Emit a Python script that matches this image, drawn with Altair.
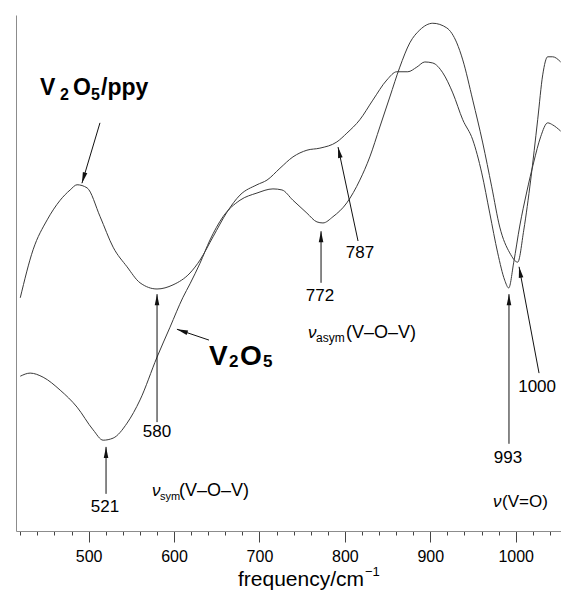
import math
import altair as alt
import pandas as pd

# ---------------- data ----------------
freq_ppy = [420, 435, 451.5, 466.7, 478.4, 486.5, 498.2, 513.5, 528.7, 545, 560.2, 580.1,
            598.8, 618.7, 630.4, 645.6, 662, 677.2, 697.1, 708.8, 724, 739.2, 755.6, 770.8,
            790.6, 802.3, 817.5, 832.7, 849.1, 860.8, 873.7, 884.2, 893.6, 902.9, 914.6,
            926.3, 938, 949.7, 960.2, 969.6, 978.9, 987.1, 991.8, 997.7, 1004.7, 1012.9,
            1021.1, 1029.2, 1037.4, 1043.3, 1052.6]
int_ppy = [45.2, 54.5, 60.3, 64.1, 66.1, 67.1, 66.5, 60.9, 55.0, 51.2, 48.1, 46.9,
           47.7, 50.0, 52.5, 57.0, 61.8, 65.1, 67.1, 68.0, 70.3, 72.5, 73.8, 74.2,
           75.4, 77.1, 79.7, 83.5, 87.4, 89.0, 89.0, 89.9, 90.9, 90.7, 88.8,
           84.9, 79.7, 75.8, 69.4, 61.6, 53.9, 48.6, 47.1, 52.1, 59.1, 65.7,
           71.5, 76.4, 79.1, 78.7, 77.5]

freq_v2o5 = [420, 431.6, 446.8, 466.7, 486.5, 505.3, 517, 528.7, 545, 560.2, 580.1, 595.3,
             610.5, 618.7, 630.4, 642.1, 657.3, 677.2, 697.1, 715.8, 726.3, 739.2, 755.6,
             767.3, 774.3, 786, 802.3, 817.5, 829.2, 840.9, 852.6, 864.3, 876, 887.7,
             902.9, 919.3, 931, 938, 949.7, 961.4, 971.9, 981.3, 993, 1002.3, 1009.4,
             1017.5, 1025.7, 1031.6, 1037.4, 1043.3, 1052.6]
int_v2o5 = [30.0, 30.6, 29.8, 27.3, 24.0, 19.6, 17.6, 18.0, 20.9, 25.4, 33.7, 39.5,
            45.3, 47.9, 51.9, 56.4, 60.9, 64.1, 65.5, 66.3, 66.1, 64.1, 61.6,
            59.9, 59.7, 60.9, 63.6, 68.0, 72.5, 78.3, 84.1, 89.9, 94.6, 97.1,
            98.4, 97.5, 94.6, 91.3, 83.5, 75.2, 66.7, 58.9, 53.9, 52.1, 58.3,
            68.0, 79.7, 88.4, 91.9, 91.9, 90.9]

peak_labels = ["521", "580", "772", "787", "993", "1000"]
peak_label_f = [519.2, 580.1, 770.9, 817.7, 991.0, 1025.0]
peak_label_y = [4.65, 19.2, 45.5, 53.9, 14.1, 27.9]

# arrows: tail (f, y) -> head (f2, y2)
arrow_f1 = [520.4, 580.1, 772.1, 815.4, 992.1, 1027.3, 513.3, 640.9]
arrow_y1 = [7.2, 21.1, 48.1, 56.2, 16.9, 30.6, 79.1, 37.0]
arrow_f2 = [520.4, 580.1, 772.1, 792.0, 992.1, 1003.9, 492.2, 603.4]
arrow_y2 = [16.3, 45.9, 58.1, 74.4, 45.9, 51.2, 67.4, 39.1]

# anchors (left end, baseline) of the composite labels
label_names = ["ppy", "v2o5", "sym", "asym", "vo"]
label_f = [443.1, 640.9, 574.2, 756.8, 973.4]
label_y = [84.5, 32.2, 6.8, 37.4, 4.65]

x_ticks = [420, 440, 460, 480, 500, 520, 540, 560, 580, 600, 620, 640, 660, 680, 700,
           720, 740, 760, 780, 800, 820, 840, 860, 880, 900, 920, 940, 960, 980, 1000,
           1020, 1040]

# ---------------- layout ----------------
W, H = 545, 516
F_MIN, F_MAX = 415, 1053
FONT = "Liberation Sans"
INK = "#111111"

xs = alt.Scale(domain=[F_MIN, F_MAX], nice=False, zero=False)
ys = alt.Scale(domain=[0, 100], nice=False, zero=False)


def px(f):
    return (f - F_MIN) / (F_MAX - F_MIN) * W


def py(y):
    return H * (1 - y / 100)


x_axis = alt.Axis(
    values=x_ticks, format="d", title="", grid=False,
    labelExpr="datum.value % 100 === 0 ? datum.label : ''",
    labelOverlap=False, labelFlush=False,
    labelFont=FONT, labelFontSize=16, labelColor="#000", labelPadding=6,
    tickSize={"condition": {"test": "datum.value % 100 === 0", "value": 11}, "value": 4},
    tickColor="#444", tickWidth=1, domainColor="#8c8c8c", domainWidth=1,
)
y_axis = alt.Axis(labels=False, ticks=False, title="", grid=False,
                  domainColor="#8c8c8c", domainWidth=1)


def X(field="f"):
    return alt.X(f"{field}:Q", scale=xs, axis=x_axis)


def Y(field="y"):
    return alt.Y(f"{field}:Q", scale=ys, axis=y_axis)


curves = pd.DataFrame({
    "f": freq_ppy + freq_v2o5,
    "y": int_ppy + int_v2o5,
    "s": ["V2O5/ppy"] * len(freq_ppy) + ["V2O5"] * len(freq_v2o5),
})

lines = alt.Chart(curves).mark_line(
    color="#3a3a3a", strokeWidth=1, interpolate="monotone"
).encode(x=X(), y=Y(), detail="s:N")

angles = []
for a, b, c, d in zip(arrow_f1, arrow_y1, arrow_f2, arrow_y2):
    dx = px(c) - px(a)
    dy = py(d) - py(b)
    angles.append(math.degrees(math.atan2(dx, -dy)) % 360)

arrows_df = pd.DataFrame({"f": arrow_f1, "y": arrow_y1, "f2": arrow_f2,
                          "y2": arrow_y2, "ang": angles})

shafts = alt.Chart(arrows_df).mark_rule(color=INK, strokeWidth=1).encode(
    x=X(), y=Y(), x2="f2:Q", y2="y2:Q",
)
heads_df = pd.DataFrame({"f": arrow_f2, "y": arrow_y2, "ang": angles})
heads = alt.Chart(heads_df).mark_point(
    shape="M0,0L0.42,2L-0.42,2Z", filled=True, size=121, color=INK, opacity=1,
    strokeWidth=0,
).encode(x=X(), y=Y(), angle=alt.Angle("ang:Q", scale=None))

nums = alt.Chart(pd.DataFrame({"f": peak_label_f, "y": peak_label_y, "t": peak_labels})).mark_text(
    font=FONT, fontSize=17, color="#000", align="center", baseline="middle"
).encode(x=X(), y=Y(), text="t:N")

layers = [lines, shafts, heads, nums]

# composite labels: (label, text, dx, dy, size, weight, style)
pieces = [
    ("ppy", "V", 0, 0, 23, "bold", "normal"),
    ("ppy", "2", 20, 5, 16, "bold", "normal"),
    ("ppy", "O", 33, 0, 23, "bold", "normal"),
    ("ppy", "5", 51, 5, 16, "bold", "normal"),
    ("ppy", "/ppy", 61, 0, 23, "bold", "normal"),
    ("v2o5", "V", 0, 0, 28, "bold", "normal"),
    ("v2o5", "2", 20, 2, 17, "bold", "normal"),
    ("v2o5", "O", 31, 0, 28, "bold", "normal"),
    ("v2o5", "5", 54, 2, 17, "bold", "normal"),
    ("sym", "ν", 0, 0, 17, "normal", "italic"),
    ("sym", "sym", 8, 4, 11, "normal", "normal"),
    ("sym", "(V–O–V)", 27, 0, 18, "normal", "normal"),
    ("asym", "ν", 0, 0, 17, "normal", "italic"),
    ("asym", "asym", 8, 4, 12, "normal", "normal"),
    ("asym", "(V–O–V)", 38, 0, 18, "normal", "normal"),
    ("vo", "ν", 0, 0, 17, "normal", "italic"),
    ("vo", "(V=O)", 9, 0, 17, "normal", "normal"),
]
for name, text, dx, dy, size, weight, style in pieces:
    i = label_names.index(name)
    df = pd.DataFrame({"f": [label_f[i]], "y": [label_y[i]], "t": [text]})
    layers.append(
        alt.Chart(df).mark_text(
            font=FONT, fontSize=size, fontWeight=weight, fontStyle=style,
            color="#000", align="left", baseline="alphabetic", dx=dx, dy=dy,
        ).encode(x=X(), y=Y(), text="t:N")
    )

# axis title with superscript
title_main = alt.Chart(pd.DataFrame({"t": ["frequency/cm"]})).mark_text(
    font=FONT, fontSize=21, color="#000", align="left", baseline="alphabetic"
).encode(x=alt.value(222), y=alt.value(571), text="t:N")
title_sup = alt.Chart(pd.DataFrame({"t": ["−1"]})).mark_text(
    font=FONT, fontSize=13, color="#000", align="left", baseline="alphabetic"
).encode(x=alt.value(349), y=alt.value(561), text="t:N")
layers += [title_main, title_sup]

chart = alt.layer(*layers).properties(
    width=W, height=H,
    autosize=alt.AutoSizeParams(type="none"),
    padding={"left": 16, "top": 15, "right": 0, "bottom": 61},
    background="white",
).configure_view(stroke="transparent")

chart.save("out.html", embed_options={"renderer": "svg", "actions": False})
